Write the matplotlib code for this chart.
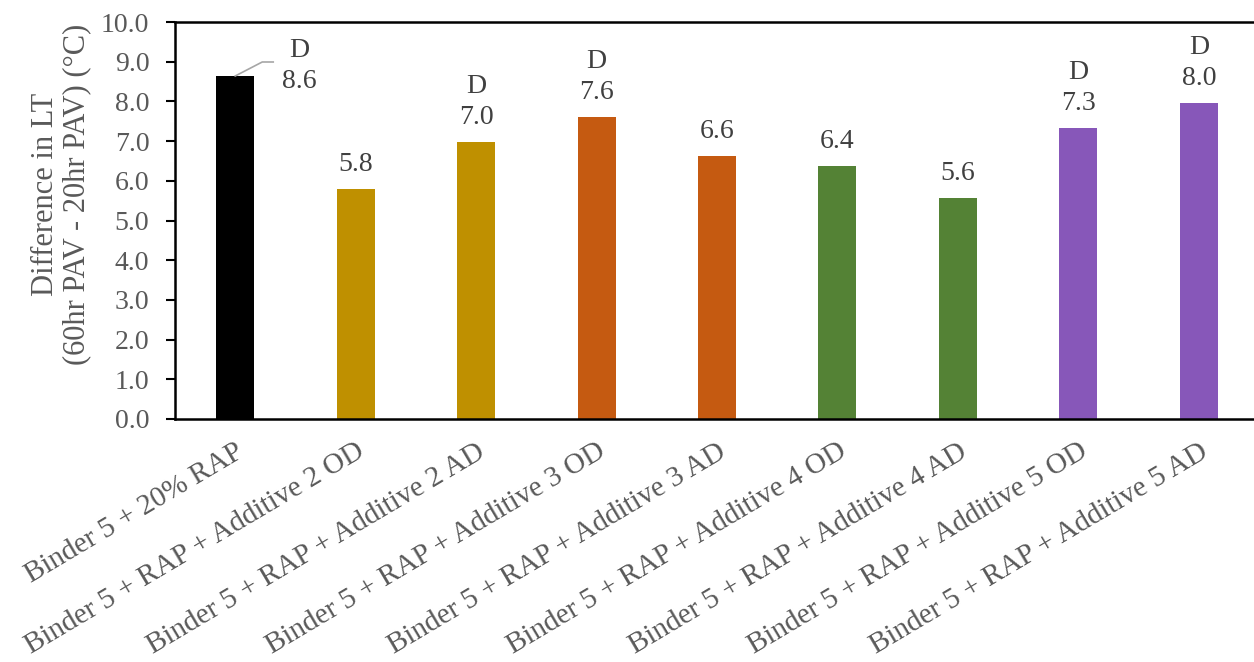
import matplotlib.pyplot as plt
from matplotlib.lines import Line2D
import numpy as np

categories = [
    "Binder 5 + 20% RAP",
    "Binder 5 + RAP + Additive 2 OD",
    "Binder 5 + RAP + Additive 2 AD",
    "Binder 5 + RAP + Additive 3 OD",
    "Binder 5 + RAP + Additive 3 AD",
    "Binder 5 + RAP + Additive 4 OD",
    "Binder 5 + RAP + Additive 4 AD",
    "Binder 5 + RAP + Additive 5 OD",
    "Binder 5 + RAP + Additive 5 AD",
]
values = [8.64, 5.79, 6.98, 7.61, 6.62, 6.37, 5.56, 7.33, 7.97]
letters = ["D", "", "D", "D", "", "", "", "D", "D"]
colors = ["#000000", "#BF9000", "#BF9000", "#C55A11", "#C55A11",
          "#548235", "#548235", "#8757B9", "#8757B9"]

plt.rcParams["font.family"] = ["Liberation Serif", "DejaVu Serif"]
fontsize = 20

W, H = 1254, 662
fig = plt.figure(figsize=(W / 100, H / 100), dpi=100)
ax = fig.add_axes([175 / W, 1 - 419 / H, 1084 / W, 397 / H])

x = np.arange(len(categories))
ax.bar(x, values, width=0.315, color=colors)

ax.set_xlim(-0.5, len(categories) - 0.5)
ax.set_ylim(0, 10)
yt = np.arange(0, 10.1, 1)
ax.set_yticks(yt)
ax.set_yticklabels([f"{t:.1f}" for t in yt])
ax.set_xticks(x)
ax.set_xticklabels(categories, rotation=30.7, ha="right", rotation_mode="anchor")

ax.tick_params(axis="y", length=6.5, width=1.5, colors="black", labelcolor="#595959",
               labelsize=fontsize, pad=12)
ax.tick_params(axis="x", length=0, labelcolor="#595959", labelsize=21, pad=14)

for side in ["left", "top", "bottom"]:
    ax.spines[side].set_linewidth(1.8)
ax.spines["right"].set_visible(False)

ax.set_ylabel("Difference in LT\n(60hr PAV - 20hr PAV) (°C)", color="#595959",
              fontsize=22, linespacing=1.1)
ax.yaxis.set_label_coords(-0.077, 0.565)

# data labels
for i, (v, letter) in enumerate(zip(values, letters)):
    txt = f"{letter}\n{v:.1f}" if letter else f"{v:.1f}"
    off = (64, -18) if i == 0 else (0, 12)
    ax.annotate(txt, (i, v), xytext=off, textcoords="offset pixels",
                ha="center", va="bottom", color="#404040", fontsize=fontsize,
                multialignment="center", linespacing=1.3)

# leader line for the first label
px, py = ax.transData.transform((0, values[0]))
xs = np.array([px, px + 27, px + 38])
ys = np.array([py, py + 14, py + 14])
pts = fig.transFigure.inverted().transform(np.column_stack([xs, ys]))
fig.add_artist(Line2D(pts[:, 0], pts[:, 1], color="#A6A6A6", lw=1.2,
                      transform=fig.transFigure))

plt.savefig("out.png", dpi=100)
